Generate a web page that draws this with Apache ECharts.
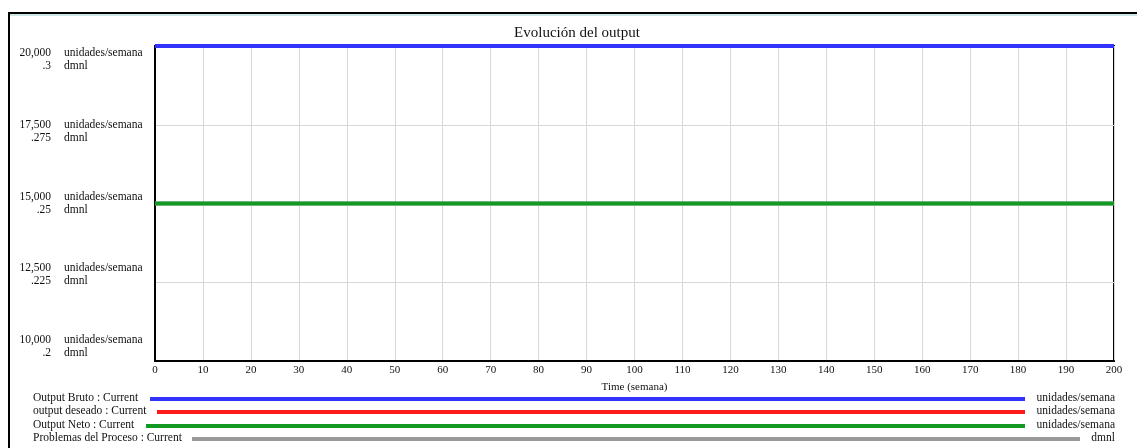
<!DOCTYPE html>
<html>
<head>
<meta charset="utf-8">
<script src="https://cdn.jsdelivr.net/npm/echarts@6/dist/echarts.min.js"></script>
<style>
  html, body { margin: 0; padding: 0; background: #fff; }
  #main { width: 1137px; height: 448px; }
</style>
</head>
<body>
<div id="main"></div>
<script>
// datos (tiempo en semanas)
var time = [0, 50, 100, 150, 200];
var outputBruto = [20000, 20000, 20000, 20000, 20000];
var outputDeseado = [20000, 20000, 20000, 20000, 20000];
var outputNeto = [15000, 15000, 15000, 15000, 15000];
var problemasProceso = [0.25, 0.25, 0.25, 0.25, 0.25];

var unitTicks = [10000, 12500, 15000, 17500, 20000];
var dmnlTicks = ['.2', '.225', '.25', '.275', '.3'];

var seriesNames = ['Output Bruto : Current', 'output deseado : Current', 'Output Neto : Current', 'Problemas del Proceso : Current'];
var seriesUnits = ['unidades/semana', 'unidades/semana', 'unidades/semana', 'dmnl'];
var seriesColors = ['#3333ff', '#ff1a1a', '#119922', '#999999'];

var serif = 'Liberation Serif';

function pairs(xs, ys) {
  return xs.map(function (x, i) { return [x, ys[i]]; });
}

// leyenda estilo Vensim
var legendY = [399, 412, 426, 439];
var legendLineStart = [150, 157, 146, 192];
var legendLineEnd = [1025, 1025, 1025, 1080];
var legendGraphics = [];
seriesNames.forEach(function (name, i) {
  legendGraphics.push({
    type: 'text', left: 33, top: legendY[i] - 7,
    style: { text: name, font: '11.5px ' + serif, fill: '#111' }
  });
  legendGraphics.push({
    type: 'line',
    shape: { x1: legendLineStart[i], y1: legendY[i], x2: legendLineEnd[i], y2: legendY[i] },
    style: { stroke: seriesColors[i], lineWidth: 4 }
  });
  legendGraphics.push({
    type: 'text', right: 22, top: legendY[i] - 7,
    style: { text: seriesUnits[i], font: '11.5px ' + serif, fill: '#111', textAlign: 'right' }
  });
});

// marco
legendGraphics.push({
  type: 'line', shape: { x1: 8, y1: 13, x2: 1137, y2: 13 },
  style: { stroke: '#000', lineWidth: 2 }
});
legendGraphics.push({
  type: 'line', shape: { x1: 8, y1: 15, x2: 1137, y2: 15 },
  style: { stroke: '#9cc', lineWidth: 1 }
});
legendGraphics.push({
  type: 'line', shape: { x1: 9, y1: 12, x2: 9, y2: 448 },
  style: { stroke: '#000', lineWidth: 2 }
});

// eje solo de etiquetas (Vensim reparte las etiquetas dentro del rango)
function labelAxis(margin, align, fmt) {
  return {
    type: 'value', min: 9494.8, max: 20470.4, position: 'left',
    axisLine: { show: false }, axisTick: { show: false }, splitLine: { show: false },
    axisLabel: {
      customValues: unitTicks,
      margin: margin, align: align,
      fontFamily: serif, fontSize: 11.5, color: '#111', lineHeight: 13,
      formatter: fmt
    }
  };
}

var option = {
  animation: false,
  backgroundColor: '#fff',
  title: {
    text: 'Evolución del output',
    left: 572, top: 21, textAlign: 'center',
    textStyle: { fontFamily: serif, fontSize: 15, fontWeight: 'normal', color: '#111' }
  },
  grid: {
    left: 155, right: 23, top: 46, bottom: 87,
    show: true, borderColor: '#000', borderWidth: 2
  },
  xAxis: {
    type: 'value', min: 0, max: 200, interval: 10,
    name: 'Time (semana)', nameLocation: 'middle', nameGap: 21,
    nameTextStyle: { fontFamily: serif, fontSize: 11, color: '#111' },
    axisLine: { lineStyle: { color: '#000', width: 2 } },
    axisTick: { show: false },
    axisLabel: { fontFamily: serif, fontSize: 11, color: '#111', margin: 4 },
    splitLine: { lineStyle: { color: '#d8d8d8', width: 1 } }
  },
  yAxis: [
    {
      type: 'value', min: 10000, max: 20000, interval: 2500,
      axisLine: { show: true, lineStyle: { color: '#000', width: 2 } },
      axisTick: { show: false },
      axisLabel: { show: false },
      splitLine: { lineStyle: { color: '#d8d8d8', width: 1 } }
    },
    labelAxis(104, 'right', function (v) {
      var i = unitTicks.indexOf(v);
      return v.toLocaleString('en-US') + '\n' + dmnlTicks[i];
    }),
    labelAxis(91, 'left', function () {
      return 'unidades/semana\ndmnl';
    }),
    {
      type: 'value', min: 0.2, max: 0.3, show: false
    }
  ],
  graphic: legendGraphics,
  series: [
    {
      name: seriesNames[0], type: 'line', yAxisIndex: 0, z: 4,
      data: pairs(time, outputBruto), showSymbol: false,
      lineStyle: { color: seriesColors[0], width: 4 }
    },
    {
      name: seriesNames[1], type: 'line', yAxisIndex: 0, z: 3,
      data: pairs(time, outputDeseado), showSymbol: false,
      lineStyle: { color: seriesColors[1], width: 4 }
    },
    {
      name: seriesNames[2], type: 'line', yAxisIndex: 0, z: 4,
      data: pairs(time, outputNeto), showSymbol: false,
      lineStyle: { color: seriesColors[2], width: 4 }
    },
    {
      name: seriesNames[3], type: 'line', yAxisIndex: 3, z: 3,
      data: pairs(time, problemasProceso), showSymbol: false,
      lineStyle: { color: seriesColors[3], width: 4 }
    }
  ]
};

var myChart = echarts.init(document.getElementById('main'), null, { renderer: 'canvas' });
myChart.setOption(option);
</script>
</body>
</html>
